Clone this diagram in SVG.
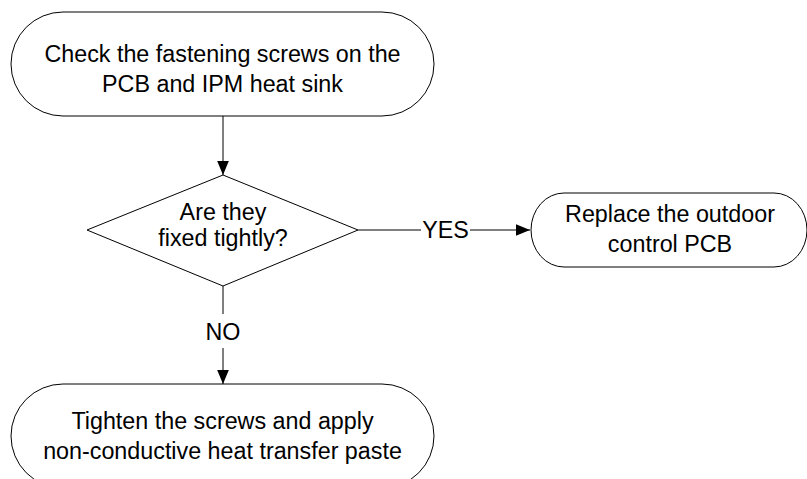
<svg xmlns="http://www.w3.org/2000/svg" width="807" height="479" viewBox="0 0 807 479">
<style>
.node{fill:#fff;stroke:#000;stroke-width:1}
.t{font-family:"Liberation Sans",Arial,sans-serif;font-size:23.3px;fill:#000;text-anchor:middle}
.c{fill:none;stroke:#000;stroke-width:1}
</style>
<defs>
<marker id="ah" markerUnits="userSpaceOnUse" markerWidth="14" markerHeight="12" refX="12" refY="5" orient="auto" viewBox="0 0 12 10">
<path d="M0,0 L12,5 L0,10 Z" fill="#000"/>
</marker>
</defs>
<rect width="807" height="479" fill="#fff"/>
<g id="start">
<path class="node" d="M63,12 H382 A52,52 0 0 1 382,116 H63 A52,52 0 0 1 63,12 Z"/>
<text class="t" x="222.5" y="62">Check the fastening screws on the</text>
<text class="t" x="222.5" y="92">PCB and IPM heat sink</text>
</g>
<g id="decision">
<path class="node" d="M223,175 L358,230 L223,286 L87,230 Z"/>
<text class="t" x="223" y="220">Are they</text>
<text class="t" x="223" y="246">fixed tightly?</text>
</g>
<g id="replace">
<path class="node" d="M564,193 H774 A33,37 0 0 1 774,267 H564 A33,37 0 0 1 564,193 Z"/>
<text class="t" x="670" y="222">Replace the outdoor</text>
<text class="t" x="670" y="252">control PCB</text>
</g>
<g id="tighten">
<path class="node" d="M63,384 H382 A52,52 0 0 1 382,488 H63 A52,52 0 0 1 63,384 Z"/>
<text class="t" x="222.5" y="429">Tighten the screws and apply</text>
<text class="t" x="222.5" y="459">non-conductive heat transfer paste</text>
</g>
<g id="connectors">
<path class="c" d="M223,116 V175" marker-end="url(#ah)"/>
<path class="c" d="M358,230 H421"/>
<path class="c" d="M470,230 H530" marker-end="url(#ah)"/>
<text class="t" x="445.5" y="238">YES</text>
<path class="c" d="M223,286 V314"/>
<path class="c" d="M223,348 V384" marker-end="url(#ah)"/>
<text class="t" x="223" y="340">NO</text>
</g>
</svg>
